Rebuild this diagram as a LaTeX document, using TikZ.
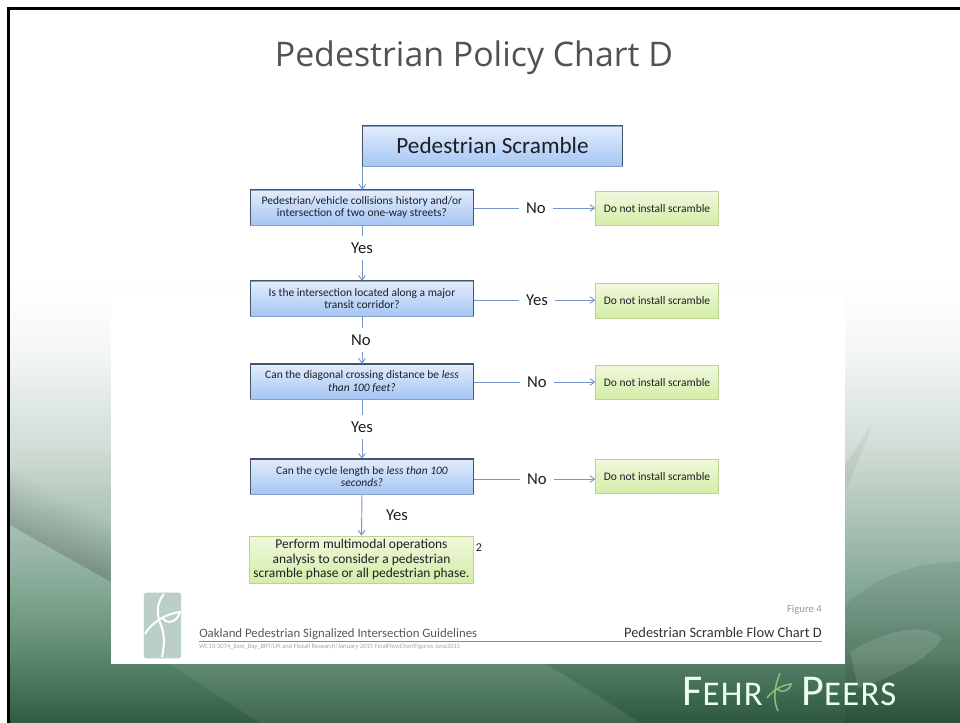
\documentclass[tikz,border=0pt]{standalone}
\usepackage{fontspec}
\setmainfont{Carlito}
\newfontfamily\titlefont{Open Sans}
\usetikzlibrary{arrows.meta,calc,positioning}
\definecolor{linkblue}{HTML}{7398C8}
\definecolor{qedge}{HTML}{46546A}
\definecolor{qtop}{HTML}{E2ECFC}
\definecolor{qbottom}{HTML}{A6C6F4}
\definecolor{gedge}{HTML}{B9D48C}
\definecolor{gtop}{HTML}{F0F8DC}
\definecolor{gbottom}{HTML}{D3EDA6}
\definecolor{inktext}{HTML}{1E1E28}
\definecolor{logogreen}{HTML}{B9CFC7}
\definecolor{plantgreen}{HTML}{8FC27A}
\definecolor{backa}{HTML}{315A45}
\definecolor{backb}{HTML}{3E6B52}
\definecolor{backc}{HTML}{5F8971}
\definecolor{backd}{HTML}{82A894}
\definecolor{backe}{HTML}{AAC1B5}
\definecolor{backf}{HTML}{D2DED7}
\definecolor{backg}{HTML}{F6F8F7}
\pgfdeclareverticalshading{slideback}{100bp}{
  color(0bp)=(backa);
  color(25bp)=(backa);
  color(26.6bp)=(backb);
  color(30bp)=(backc);
  color(34.2bp)=(backd);
  color(39bp)=(backe);
  color(44.5bp)=(backf);
  color(51.5bp)=(backg);
  color(56bp)=(white);
  color(100bp)=(white)}
\tikzset{
  question/.style={draw=qbottom!80!black,line width=0.4pt,top color=qtop,bottom color=qbottom,
    minimum width=166.5bp,minimum height=26bp,inner sep=0pt,align=center,
    text=inktext,font=\fontsize{8.6}{9.3}\selectfont},
  answer/.style={draw=gedge,line width=0.6pt,top color=gtop,bottom color=gbottom,
    minimum width=91.5bp,minimum height=26bp,inner sep=0pt,align=center,
    text=inktext,font=\fontsize{8.6}{10}\selectfont},
  choice/.style={draw=none,fill=none,inner xsep=5pt,inner ysep=5pt,text=inktext,font=\fontsize{12.5}{14}\selectfont},
  link/.style={linkblue,line width=0.7pt},
  linkto/.style={link,-{Straight Barb[length=3.5pt,width=5pt]}},
  footer/.style={draw=none,fill=none,inner sep=0pt,text=black!65},
  topedge/.style={qedge,line width=1pt},
  markword/.style={draw=none,fill=none,text=white!92!green,inner sep=0pt,font=\addfontfeature{LetterSpace=4}\fontsize{33}{34}\selectfont}
}
\begin{document}
\begin{tikzpicture}[x=0.75pt,y=-0.75pt]
  \useasboundingbox (0,0) rectangle (960,723);

  % Slide background
  \shade[shading=slideback] (8,8) rectangle (960,723);
  \foreach \h in {8,16,24,32,40,48,56}
    \fill[black,opacity=0.018] (10,525) -- (111,582) -- (111,582-\h) -- (10,525-\h) -- cycle;
  \fill[black,opacity=0.07] (845,605) .. controls (880,575) and (915,562) .. (960,562) -- (960,723) -- (845,723) -- cycle;
  \fill[white,opacity=0.12] (850,652) .. controls (885,630) and (925,622) .. (942,638) .. controls (930,660) and (885,680) .. (858,688) -- cycle;
  \fill[black,opacity=0.05] (845,465) .. controls (855,450) and (865,435) .. (872,424) .. controls (865,445) and (855,470) .. (845,490) -- cycle;
  \fill[white,opacity=0.07] (170,664) -- (545,664) .. controls (590,690) and (620,710) .. (640,723) -- (260,723) -- cycle;
  \fill[black,opacity=0.04] (545,664) -- (960,664) -- (960,723) -- (640,723) .. controls (620,710) and (590,690) .. (545,664) -- cycle;
  \draw[black,line width=2.25pt] (8.5,723) -- (8.5,8.5) -- (960,8.5);

  % Title
  \node[draw=none,fill=none,text=black!68,font=\titlefont\fontsize{25.4}{30}\selectfont] (title) at (474,58) {Pedestrian Policy Chart D};

  % Pasted figure
  \fill[white] (111,291) rectangle (845,664);

  % Header
  \node[question,minimum width=194bp,minimum height=30bp,font=\fontsize{17.4}{20}\selectfont] (scramble) at (492.5,146) {Pedestrian Scramble};

  % Questions
  \node[question] (q1) at (362,207.5) {Pedestrian/vehicle collisions history and/or\\intersection of two one-way streets?};
  \node[question] (q2) at (362,298.5) {Is the intersection located along a major\\transit corridor?};
  \node[question] (q3) at (362,381.5) {Can the diagonal crossing distance be \textit{less}\\\textit{than 100 feet?}};
  \node[question] (q4) at (362,476.5) {Can the cycle length be \textit{less than 100}\\\textit{seconds?}};
  \foreach \q in {scramble,q1,q2,q3,q4}
    \draw[topedge] (\q.south west) -- (\q.north west) -- (\q.north east) -- (\q.south east);

  % Outcomes
  \node[answer] (a1) at (657,208.5) {Do not install scramble};
  \node[answer] (a2) at (657,301) {Do not install scramble};
  \node[answer] (a3) at (657,382.5) {Do not install scramble};
  \node[answer] (a4) at (657,476.5) {Do not install scramble};
  \node[answer,minimum width=167bp,minimum height=35bp,font=\fontsize{10.1}{10.9}\selectfont] (perform) at (361.5,559.5) {Perform multimodal operations\\analysis to consider a pedestrian\\scramble phase or all pedestrian phase.};
  \node[choice,font=\fontsize{9}{10}\selectfont] (two) at (479,548) {2};

  % Choices down
  \node[choice] (down1) at (362,248) {Yes};
  \node[choice] (down2) at (361,340) {No};
  \node[choice] (down3) at (362,427) {Yes};
  \node[choice] (down4) at (397,515) {Yes};

  % Choices across
  \node[choice] (side1) at (536,208) {No};
  \node[choice] (side2) at (537,300) {Yes};
  \node[choice] (side3) at (537,382) {No};
  \node[choice] (side4) at (537,479) {No};

  % Links
  \draw[linkto] (scramble.south west) -- (scramble.south west |- q1.north);
  \foreach \q/\d/\n in {q1/down1/q2,q2/down2/q3,q3/down3/q4}{
    \draw[link] (\q.south) -- (\q.south |- \d.north);
    \draw[linkto] (\q.south |- \d.south) -- (\n.north);
  }
  \draw[linkto] (q4.south) -- (perform.north);
  \foreach \q/\s/\a in {q1/side1/a1,q2/side2/a2,q3/side3/a3,q4/side4/a4}{
    \draw[link] (\q.east |- \s) -- (\s.west);
    \draw[linkto] (\s.east) -- (\s.east -| \a.west);
  }

  % Logo and figure footer
  \node[draw=none,fill=logogreen,rounded corners=2pt,minimum width=28bp,minimum height=49bp,inner sep=0pt] (logo) at (162.5,625.5) {};
  \draw[white,line width=1.5pt] (164,594) .. controls (154,606) and (158,618) .. (162,628) .. controls (165,637) and (164,648) .. (162,657);
  \draw[white,line width=1.5pt] (145,634) .. controls (152,622) and (165,614) .. (180,612) .. controls (177,623) and (166,625) .. (162,617);
  \node[footer,anchor=base west,font=\fontsize{9.6}{11}\selectfont] (guide) at (199,637) {Oakland Pedestrian Signalized Intersection Guidelines};
  \node[footer,anchor=base east,text=black!80,font=\fontsize{10.8}{12}\selectfont] (flow) at (822,637) {Pedestrian Scramble Flow Chart D};
  \node[footer,anchor=base east,text=black!40,font=\fontsize{8}{9}\selectfont] (fig) at (822,612) {Figure 4};
  \node[footer,anchor=base west,text=black!35,font=\fontsize{4.9}{6}\selectfont] (job) at (199,648) {WC13-3074\_East\_Bay\_BRT/LPI and Flexall Research/January 2015 FinalFlowChartFigures June2015};
  \draw[black!45,line width=0.5pt] (guide.base west) ++(0,4) -- (flow.base east |- 0,641);

  % Company mark
  \node[markword,anchor=base east] (fehr) at (763,705) {F\fontsize{26}{34}\selectfont EHR};
  \node[markword,anchor=base west] (peers) at (801,705) {P\fontsize{26}{34}\selectfont EERS};
  \draw[plantgreen,line width=1.1pt] (780,673) .. controls (774,688) and (773,700) .. (778,711);
  \draw[plantgreen,line width=1.1pt] (767,698) .. controls (773,690) and (782,685) .. (791,684) .. controls (789,692) and (781,693) .. (777,689);
\end{tikzpicture}
\end{document}
